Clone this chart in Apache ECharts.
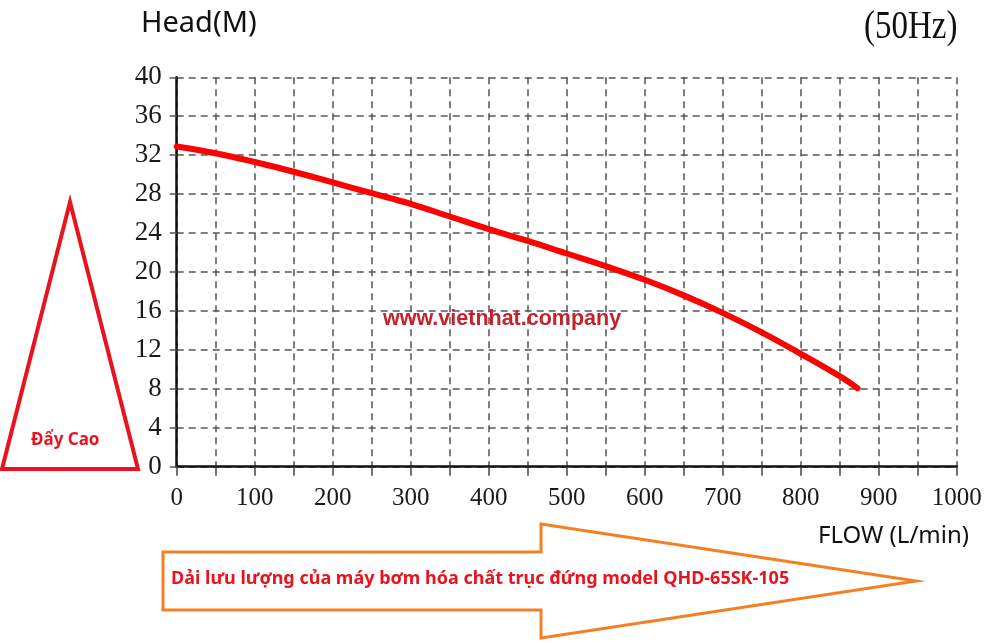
<!DOCTYPE html>
<html>
<head>
<meta charset="utf-8">
<script src="https://cdn.jsdelivr.net/npm/echarts@6/dist/echarts.min.js"></script>
<style>html,body{margin:0;padding:0;background:#fff;}#c{width:1000px;height:643px;}</style>
</head>
<body>
<div id="c"></div>
<script>
const flow = [0, 50, 100, 150, 200, 250, 300, 350, 400, 450, 500, 550, 600, 650, 700, 750, 800, 850, 873];
const head = [32.9, 32.2, 31.3, 30.3, 29.2, 28.1, 27.0, 25.7, 24.4, 23.2, 21.9, 20.6, 19.2, 17.6, 15.8, 13.8, 11.6, 9.3, 8.05];
const xTicks = [0, 100, 200, 300, 400, 500, 600, 700, 800, 900, 1000];
const yTicks = [0, 4, 8, 12, 16, 20, 24, 28, 32, 36, 40];

const chart = echarts.init(document.getElementById('c'), null, {renderer: 'canvas'});
const gridStyle = {color: '#555', width: 1.5, type: [7, 5]};
const serif = '"Liberation Serif", "DejaVu Serif", serif';
const sans = '"Noto Sans", "Open Sans", sans-serif';

chart.setOption({
  backgroundColor: '#fff',
  animation: false,
  grid: {left: 176.7, right: 43.3, top: 77.3, bottom: 176.3, containLabel: false, outerBoundsMode: 'none'},
  xAxis: {
    type: 'value', min: xTicks[0], max: xTicks[xTicks.length - 1], interval: 100,
    axisLine: {show: true, onZero: false, lineStyle: {color: '#111', width: 2.5}},
    axisTick: {show: true, length: 9, lineStyle: {color: '#444', width: 1.5}},
    minorTick: {show: true, splitNumber: 2, length: 9, lineStyle: {color: '#444', width: 1.5}},
    minorSplitLine: {show: true, lineStyle: gridStyle},
    splitLine: {show: true, lineStyle: gridStyle},
    axisLabel: {margin: 19, fontFamily: serif, fontSize: 25, color: '#1a1a1a', showMaxLabel: true, showMinLabel: true,
      formatter: v => String(v)}
  },
  yAxis: {
    type: 'value', min: yTicks[0], max: yTicks[yTicks.length - 1], interval: 4,
    axisLine: {show: true, onZero: false, lineStyle: {color: '#111', width: 2.5}},
    axisTick: {show: true, length: 10, lineStyle: {color: '#555', width: 1.5, type: [7, 5]}},
    splitLine: {show: true, lineStyle: gridStyle},
    axisLabel: {margin: 15, fontFamily: serif, fontSize: 27, color: '#1a1a1a', showMaxLabel: true, showMinLabel: true,
      formatter: v => String(v)}
  },
  series: [{
    type: 'line',
    data: flow.map((f, i) => [f, head[i]]),
    smooth: 0.4,
    symbol: 'none',
    lineStyle: {color: '#ff0000', width: 6, cap: 'round', join: 'round'},
    z: 5
  }],
  graphic: [
    {type: 'text', left: 141, top: 9, style: {text: 'Head(M)', font: '29px ' + sans, fill: '#111'}},
    {type: 'text', x: 864, y: 8, scaleY: 1.2, style: {text: '(50Hz)', font: '33px ' + serif, fill: '#111'}},
    {type: 'text', left: 818, top: 524, style: {text: 'FLOW (L/min)', font: '24px ' + sans, fill: '#111'}},
    {type: 'text', left: 383, top: 308, z: 10, style: {text: 'www.vietnhat.company', font: 'bold 21.5px "Liberation Sans", Arial, sans-serif', fill: '#c4232e'}},
    {type: 'polygon', shape: {points: [[70, 202], [138, 469], [2, 469]]}, style: {fill: 'none', stroke: '#e8131e', lineWidth: 4, lineJoin: 'miter'}},
    {type: 'text', left: 31, top: 432, style: {text: 'Đẩy Cao', font: 'bold 17px ' + sans, fill: '#e8131e'}},
    {type: 'polygon', shape: {points: [[163, 552], [541, 552], [541, 524], [916, 581], [541, 638], [541, 610], [163, 610]]}, style: {fill: '#fff', stroke: '#f58024', lineWidth: 3}},
    {type: 'text', left: 171, top: 570, style: {text: 'Dải lưu lượng của máy bơm hóa chất trục đứng model QHD-65SK-105', font: 'bold 18px ' + sans, fill: '#e8131e'}}
  ]
});
</script>
</body>
</html>
